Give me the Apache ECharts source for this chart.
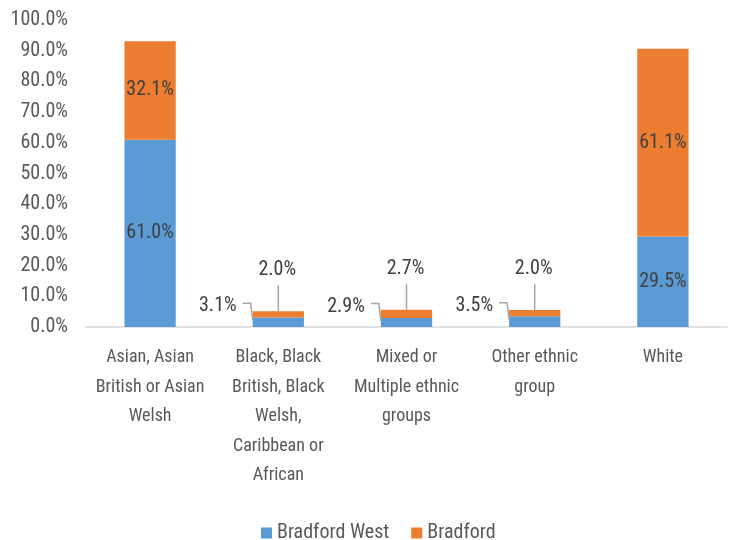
<!DOCTYPE html>
<html><head><meta charset="utf-8">
<script src="https://cdn.jsdelivr.net/npm/echarts@6/dist/echarts.min.js"></script>
<style>html,body{margin:0;padding:0;background:#fff}#c{width:731px;height:540px}</style>
</head><body><div id="c"></div>
<script>
var categories = ["Asian, Asian\nBritish or Asian\nWelsh", "Black, Black\nBritish, Black\nWelsh,\nCaribbean or\nAfrican", "Mixed or\nMultiple ethnic\ngroups", "Other ethnic\ngroup", "White"];
var bradfordWest = [61.0, 3.1, 2.9, 3.5, 29.5];
var bradford = [32.1, 2.0, 2.7, 2.0, 61.1];
var seriesNames = ["Bradford West", "Bradford"];

var FONT = '"Roboto Condensed", "Liberation Sans", Arial, sans-serif';
var FS = 20;      // numbers & legend
var FSC = 18;     // category labels
var TXT = '#404040';
var fmt = function (v) { return v.toFixed(1) + '%'; };
var SMALL = 10;

var chart = echarts.init(document.getElementById('c'));
var outside = categories.map(function (c, i) { return [i, bradfordWest[i], bradford[i]]; });

function renderOutside(params, api) {
  var i = api.value(0), w = api.value(1), b = api.value(2);
  if (w + b >= SMALL) return null;
  var c0 = api.coord([i, 0]), cw = api.coord([i, w]), ct = api.coord([i, w + b]);
  var hw = api.size([1, 0])[0] * 0.2;
  var left = c0[0] - hw;
  var blueMid = (c0[1] + cw[1]) / 2;
  var by = blueMid - 16;
  var oy = ct[1] - 41;
  return {
    type: 'group',
    children: [
      { type: 'polyline', shape: { points: [[left - 10, by - 3], [left - 2, by - 3], [left, blueMid - 2]] },
        style: { stroke: '#A6A6A6', lineWidth: 1.5, fill: null } },
      { type: 'text', style: { text: fmt(w), x: left - 16, y: by, align: 'right', verticalAlign: 'middle', fill: TXT, font: FS + 'px ' + FONT } },
      { type: 'line', shape: { x1: c0[0], y1: oy + 15, x2: c0[0], y2: ct[1] },
        style: { stroke: '#A6A6A6', lineWidth: 1.5 } },
      { type: 'text', style: { text: fmt(b), x: c0[0] - 1, y: oy, align: 'center', verticalAlign: 'middle', fill: TXT, font: FS + 'px ' + FONT } }
    ]
  };
}

var insideLabel = {
  show: true, position: 'inside', color: TXT, fontSize: FS, fontFamily: FONT,
  formatter: function (p) { return p.value >= SMALL ? fmt(p.value) : ''; }
};

chart.setOption({
  animation: false,
  textStyle: { fontFamily: FONT },
  grid: { left: 86, right: 4, top: 20, bottom: 213 },
  legend: {
    top: 518, left: 256, itemWidth: 11, itemHeight: 11, itemGap: 22, icon: 'rect',
    textStyle: { color: '#595959', fontSize: FS, fontFamily: FONT },
    data: seriesNames
  },
  xAxis: {
    type: 'category', data: categories,
    axisLine: { lineStyle: { color: '#D9D9D9', width: 1.5 } },
    axisTick: { show: false },
    axisLabel: { color: '#595959', fontSize: FSC, fontFamily: FONT, lineHeight: 29.5, margin: 16, interval: 0 }
  },
  yAxis: {
    type: 'value', min: 0, max: 100, interval: 10,
    splitLine: { show: false }, axisLine: { show: false }, axisTick: { show: false },
    axisLabel: { color: '#595959', fontSize: FS, fontFamily: FONT, margin: 18, formatter: function (v) { return v.toFixed(1) + '%'; } }
  },
  series: [
    { name: seriesNames[0], type: 'bar', stack: 's', barWidth: '40%', data: bradfordWest,
      itemStyle: { color: '#5B9BD5' }, label: insideLabel },
    { name: seriesNames[1], type: 'bar', stack: 's', barWidth: '40%', data: bradford,
      itemStyle: { color: '#ED7D31' }, label: insideLabel },
    { type: 'custom', renderItem: renderOutside, data: outside, silent: true, z: 5,
      encode: { x: 0, y: 1 } }
  ]
});
</script></body></html>
